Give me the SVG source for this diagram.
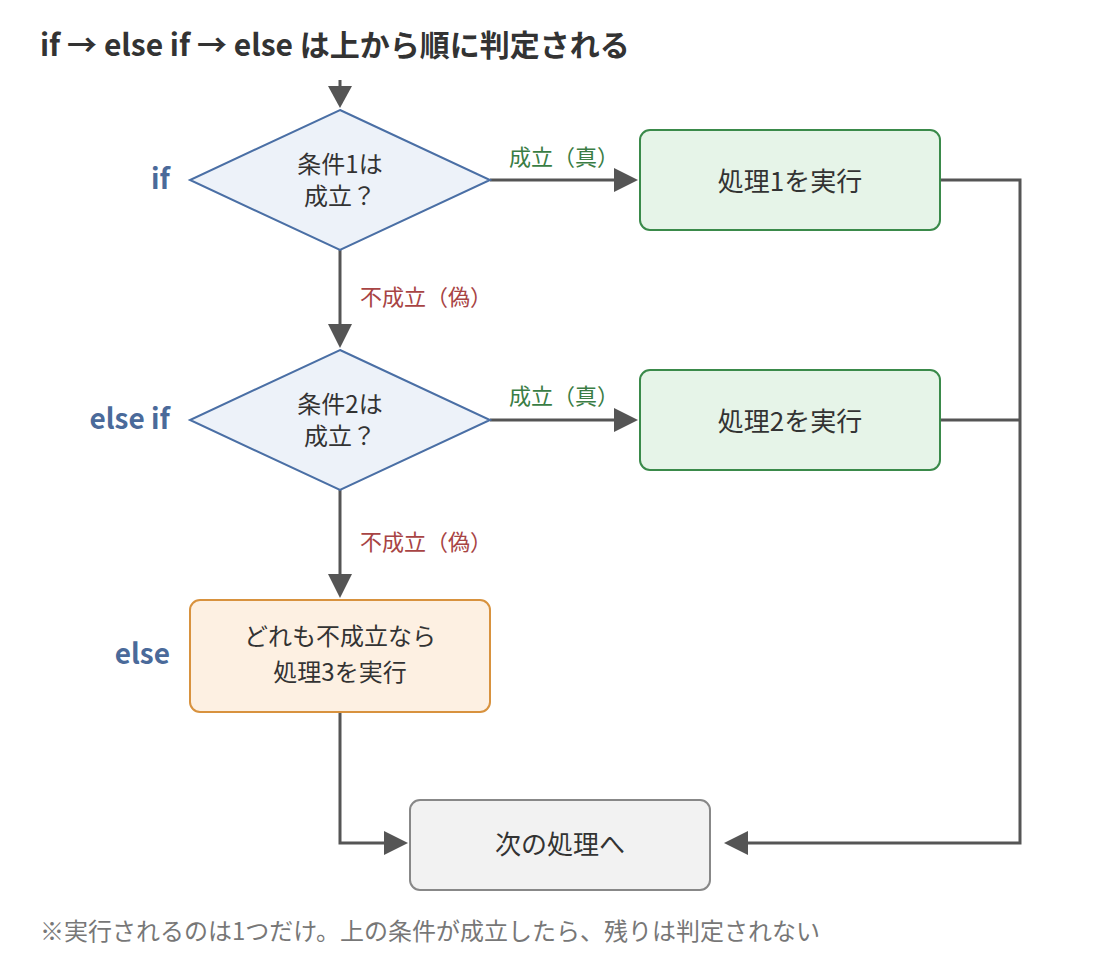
<svg xmlns="http://www.w3.org/2000/svg" width="1120" height="960" viewBox="0 0 1120 960">
<defs>
<style>
text{font-family:"Noto Sans CJK JP","Noto Sans",sans-serif;}
.title{font-size:30px;font-weight:bold;fill:#333;}
.kw{font-size:28px;font-weight:bold;fill:#4a6a9a;text-anchor:end;}
.nt{font-size:26px;fill:#333;text-anchor:middle;}
.dt{font-size:24px;fill:#333;text-anchor:middle;}
.yes{font-size:22px;fill:#3a7d44;}
.no{font-size:22px;fill:#a84444;}
.foot{font-size:24px;fill:#777;}
.dia{fill:#edf2f9;stroke:#4a6fa5;stroke-width:2;}
.ok{fill:#e6f4e8;stroke:#3a8a4a;stroke-width:2;}
.els{fill:#fdf0e2;stroke:#d8923e;stroke-width:2;}
.nx{fill:#f2f2f2;stroke:#888;stroke-width:2;}
.c{fill:none;stroke:#555;stroke-width:3;}
.ah{fill:#555;}
</style>
</defs>
<rect width="1120" height="960" fill="#fff"/>
<text class="title" x="40" y="56">if → else if → else は上から順に判定される</text>
<g id="connectors">
<line class="c" x1="340" y1="80" x2="340" y2="90"/>
<path class="ah" d="M328,86 L352,86 L340,108 z"/>
<line class="c" x1="490" y1="180" x2="616" y2="180"/>
<path class="ah" d="M614,168 L638,180 L614,192 z"/>
<line class="c" x1="340" y1="250" x2="340" y2="326"/>
<path class="ah" d="M328,324 L352,324 L340,348 z"/>
<line class="c" x1="490" y1="420" x2="616" y2="420"/>
<path class="ah" d="M614,408 L638,420 L614,432 z"/>
<line class="c" x1="340" y1="490" x2="340" y2="576"/>
<path class="ah" d="M328,574 L352,574 L340,598 z"/>
<polyline class="c" points="940,180 1020,180 1020,843 746,843"/>
<line class="c" x1="940" y1="420" x2="1020" y2="420"/>
<path class="ah" d="M748,831 L724,843 L748,855 z"/>
<polyline class="c" points="340,712 340,843 386,843"/>
<path class="ah" d="M384,831 L408,843 L384,855 z"/>
<text class="yes" x="509" y="165">成立（真）</text>
<text class="no" x="360" y="305">不成立（偽）</text>
<text class="yes" x="509" y="404">成立（真）</text>
<text class="no" x="360" y="550">不成立（偽）</text>
</g>
<g id="cond1">
<polygon class="dia" points="340,110 490,180 340,250 190,180"/>
<text class="dt" x="340" y="173">条件1は</text>
<text class="dt" x="340" y="205">成立？</text>
<text class="kw" x="170" y="189">if</text>
</g>
<g id="proc1">
<rect class="ok" x="640" y="130" width="300" height="100" rx="10"/>
<text class="nt" x="790" y="191">処理1を実行</text>
</g>
<g id="cond2">
<polygon class="dia" points="340,350 490,420 340,490 190,420"/>
<text class="dt" x="340" y="413">条件2は</text>
<text class="dt" x="340" y="445">成立？</text>
<text class="kw" x="170" y="429">else if</text>
</g>
<g id="proc2">
<rect class="ok" x="640" y="370" width="300" height="100" rx="10"/>
<text class="nt" x="790" y="431">処理2を実行</text>
</g>
<g id="proc3">
<rect class="els" x="190" y="600" width="300" height="112" rx="10"/>
<text class="dt" x="340" y="645">どれも不成立なら</text>
<text class="dt" x="340" y="681">処理3を実行</text>
<text class="kw" x="170" y="664">else</text>
</g>
<g id="next">
<rect class="nx" x="410" y="800" width="300" height="90" rx="10"/>
<text class="nt" x="560" y="854">次の処理へ</text>
</g>
<text class="foot" x="40" y="940">※実行されるのは1つだけ。上の条件が成立したら、残りは判定されない</text>
</svg>
